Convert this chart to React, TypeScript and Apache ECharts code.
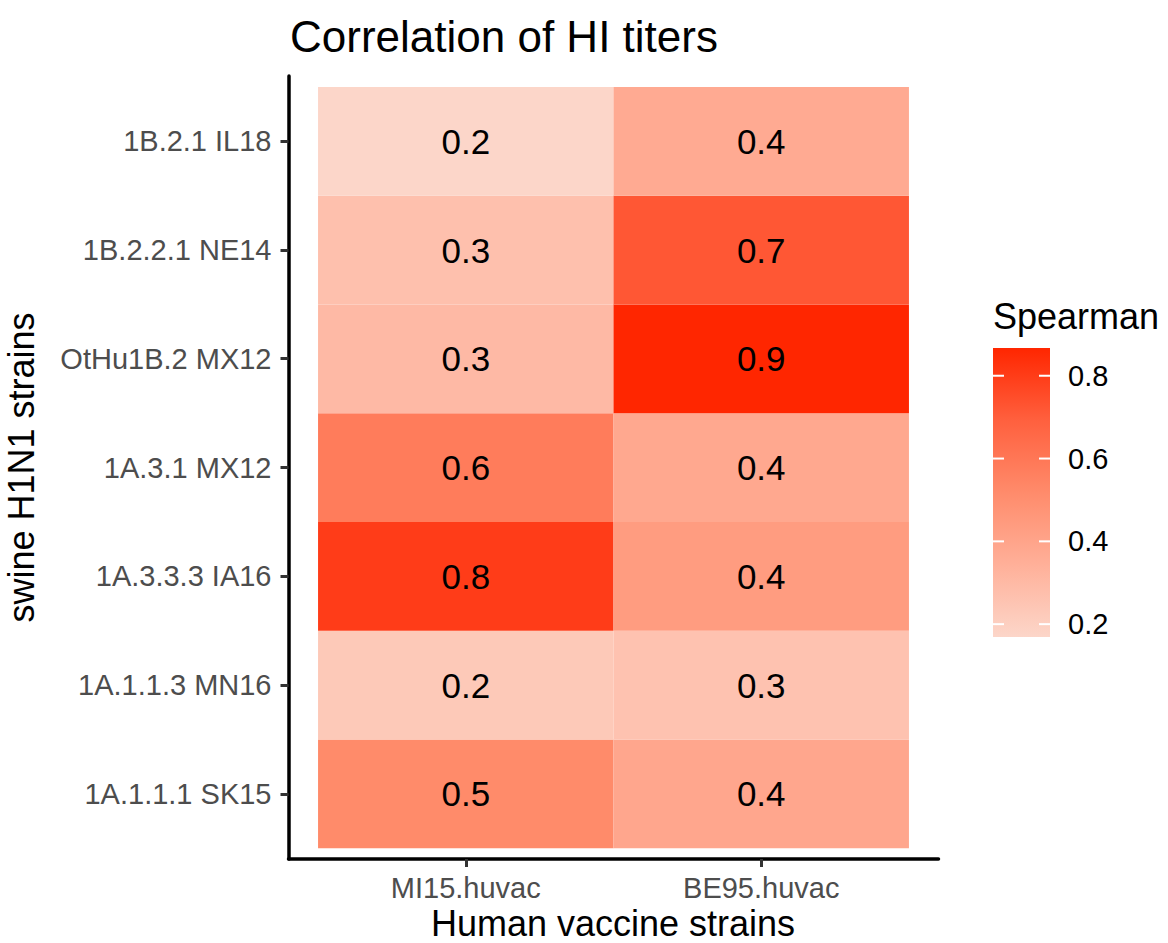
import React, { useEffect, useRef } from "react";
import * as echarts from "echarts";

// Categories
const cols = ["MI15.huvac", "BE95.huvac"];
// rows listed bottom to top
const rows = [
  "1A.1.1.1 SK15",
  "1A.1.1.3 MN16",
  "1A.3.3.3 IA16",
  "1A.3.1 MX12",
  "OtHu1B.2 MX12",
  "1B.2.2.1 NE14",
  "1B.2.1 IL18",
];
// Spearman values, bottom to top
const mi15Values = [0.52, 0.23, 0.8, 0.58, 0.3, 0.27, 0.169];
const be95Values = [0.39, 0.26, 0.44, 0.38, 0.867, 0.72, 0.37];

const legendTicks = [0.2, 0.4, 0.6, 0.8];
const scaleMin = 0.169;
const scaleMax = 0.867;
const rampColors = ["#FCD6C9", "#FFB099", "#FF8B6B", "#FF603E", "#FF2600"];

const FONT = "'Liberation Sans', Arial, Helvetica, sans-serif";

export default function App() {
  const ref = useRef<HTMLDivElement>(null);

  useEffect(() => {
    if (!ref.current) return;
    const chart = echarts.init(ref.current, undefined, { renderer: "svg" });

    const data: number[][] = [];
    const colValues = [mi15Values, be95Values];
    colValues.forEach((vals, ci) => {
      vals.forEach((v, ri) => {
        data.push([ci + 1, ri + 1, v]);
      });
    });

    const rowTicks = rows.map((_, i) => i + 1);
    const colTicks = cols.map((_, i) => i + 1);

    const gradient = new echarts.graphic.LinearGradient(
      0,
      0,
      0,
      1,
      rampColors
        .slice()
        .reverse()
        .map((c, i) => ({ offset: i / (rampColors.length - 1), color: c }))
    );

    const option: any = {
      animation: false,
      backgroundColor: "#ffffff",
      textStyle: { fontFamily: FONT },
      title: {
        text: "Correlation of HI titers",
        left: 285,
        top: 9,
        textStyle: { fontSize: 44, fontWeight: "normal", color: "#000", fontFamily: FONT },
      },
      grid: [
        { left: 288.5, right: 229.5, top: 76, bottom: 84, outerBoundsMode: "none", containLabel: false },
        { left: 993, top: 348, width: 57, height: 289, outerBoundsMode: "none", containLabel: false },
      ],
      xAxis: [
        {
          type: "value",
          gridIndex: 0,
          min: 0.4,
          max: 2.6,
          splitLine: { show: false },
          axisLine: { show: true, lineStyle: { color: "#000", width: 3.5 } },
          axisTick: { show: true, customValues: colTicks, length: 8, lineStyle: { color: "#333", width: 3 } },
          axisLabel: {
            customValues: colTicks,
            formatter: (v: number) => cols[Math.round(v) - 1] ?? "",
            fontSize: 29,
            lineHeight: 29,
            color: "#4D4D4D",
            margin: 14,
            fontFamily: FONT,
          },
        },
        { type: "value", gridIndex: 1, min: 0, max: 1, show: false },
      ],
      yAxis: [
        {
          type: "value",
          gridIndex: 0,
          min: 0.4,
          max: 7.6,
          splitLine: { show: false },
          axisLine: { show: true, lineStyle: { color: "#000", width: 3.5 } },
          axisTick: { show: true, customValues: rowTicks, length: 8, lineStyle: { color: "#333", width: 3 } },
          axisLabel: {
            customValues: rowTicks,
            formatter: (v: number) => rows[Math.round(v) - 1] ?? "",
            fontSize: 29,
            color: "#4D4D4D",
            margin: 17,
            fontFamily: FONT,
          },
          name: "swine H1N1 strains",
          nameLocation: "middle",
          nameGap: 249,
          nameTextStyle: { fontSize: 36, color: "#000", fontFamily: FONT },
        },
        {
          type: "value",
          gridIndex: 1,
          min: scaleMin,
          max: scaleMax,
          position: "right",
          splitLine: { show: false },
          axisLine: { show: false },
          axisTick: { show: false },
          axisLabel: {
            customValues: legendTicks,
            formatter: (v: number) => v.toFixed(1),
            fontSize: 29,
            color: "#000",
            margin: 18,
            fontFamily: FONT,
          },
        },
      ],
      visualMap: {
        type: "continuous",
        show: false,
        seriesIndex: 0,
        dimension: 2,
        min: scaleMin,
        max: scaleMax,
        inRange: { color: rampColors },
      },
      graphic: [
        {
          type: "text",
          left: 993,
          top: 298,
          style: { text: "Spearman", fontSize: 36, fill: "#000", fontFamily: FONT },
        },
        {
          type: "text",
          x: 613,
          y: 923,
          style: {
            text: "Human vaccine strains",
            fontSize: 36,
            lineHeight: 36,
            fill: "#000",
            fontFamily: FONT,
            align: "center",
            verticalAlign: "middle",
          },
        },
      ],
      series: [
        {
          type: "custom",
          xAxisIndex: 0,
          yAxisIndex: 0,
          data,
          renderItem: (params: any, api: any) => {
            const x = api.value(0);
            const y = api.value(1);
            const v = api.value(2);
            const p0 = api.coord([x - 0.5, y + 0.5]);
            const p1 = api.coord([x + 0.5, y - 0.5]);
            const c = api.coord([x, y]);
            return {
              type: "group",
              children: [
                {
                  type: "rect",
                  shape: { x: p0[0], y: p0[1], width: p1[0] - p0[0], height: p1[1] - p0[1] },
                  style: { fill: api.visual("color") },
                },
                {
                  type: "text",
                  x: c[0],
                  y: c[1],
                  style: {
                    text: Number(v).toFixed(1),
                    fontSize: 35,
                    fill: "#000",
                    align: "center",
                    verticalAlign: "middle",
                    fontFamily: FONT,
                  },
                },
              ],
            };
          },
        },
        {
          type: "custom",
          xAxisIndex: 1,
          yAxisIndex: 1,
          z: 1,
          data: [[0]],
          renderItem: (params: any, api: any) => {
            const p0 = api.coord([0, scaleMax]);
            const p1 = api.coord([1, scaleMin]);
            return {
              type: "rect",
              shape: { x: p0[0], y: p0[1], width: p1[0] - p0[0], height: p1[1] - p0[1] },
              style: { fill: gradient },
            };
          },
        },
        {
          type: "custom",
          xAxisIndex: 1,
          yAxisIndex: 1,
          z: 3,
          data: legendTicks.map((t) => [0, t]),
          renderItem: (params: any, api: any) => {
            const t = api.value(1);
            const a = api.coord([0, t]);
            const b = api.coord([1, t]);
            const len = 11;
            return {
              type: "group",
              children: [
                {
                  type: "line",
                  shape: { x1: a[0], y1: a[1], x2: a[0] + len, y2: a[1] },
                  style: { stroke: "#ffffff", lineWidth: 2 },
                },
                {
                  type: "line",
                  shape: { x1: b[0] - len, y1: b[1], x2: b[0], y2: b[1] },
                  style: { stroke: "#ffffff", lineWidth: 2 },
                },
              ],
            };
          },
        },
      ],
    };

    chart.setOption(option);
    return () => chart.dispose();
  }, []);

  return (
    <div
      ref={ref}
      style={{ position: "fixed", left: 0, top: 0, width: 1168, height: 943 }}
    />
  );
}
